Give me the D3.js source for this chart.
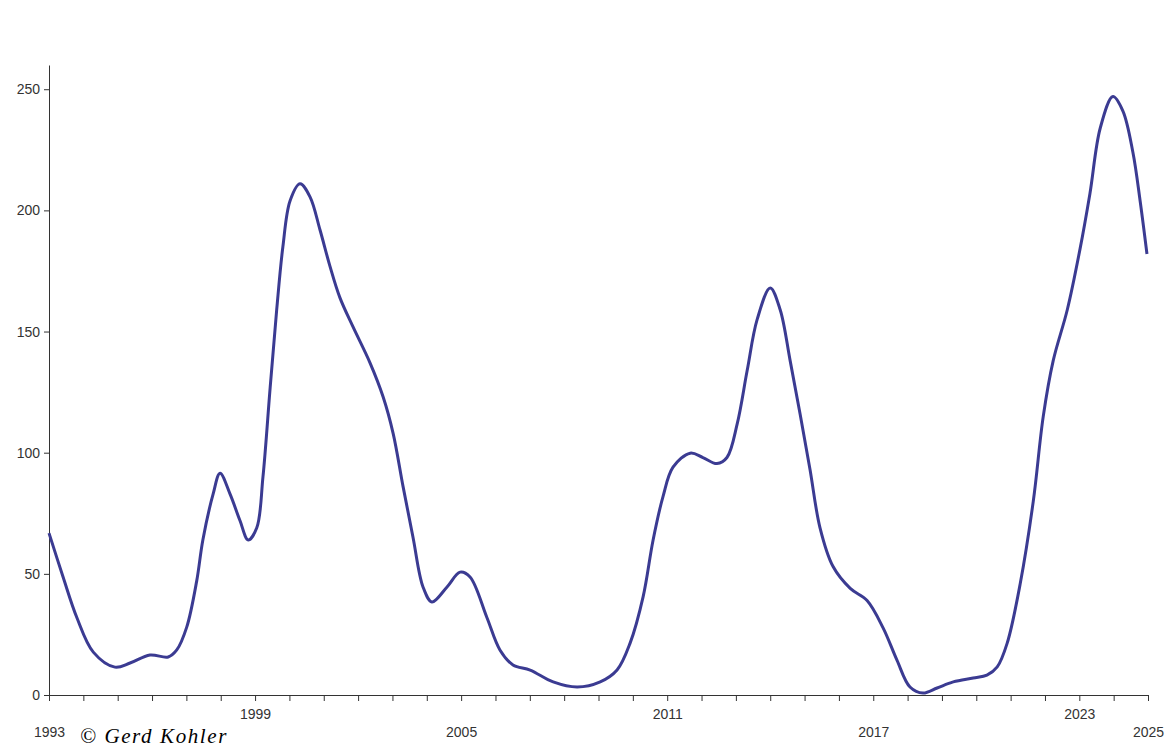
<!DOCTYPE html>
<html>
<head>
<meta charset="utf-8">
<script src="https://cdn.jsdelivr.net/npm/d3@7"></script>
<style>
  body { margin: 0; background: #fff; }
  .axis text { font-family: "Liberation Sans", Arial, sans-serif; font-size: 14px; fill: #333; }
  .axis path, .axis line { stroke: #333; }
</style>
</head>
<body>
<div id="entry"></div>
<script>
// smoothed values (decimal year, value)
var years = [1993.00, 1993.41, 1993.81, 1994.29, 1994.92, 1995.36, 1995.94, 1996.47, 1996.72, 1997.01,
  1997.30, 1997.48, 1997.78, 1997.98, 1998.27, 1998.56, 1998.80, 1999.05, 1999.23, 1999.44,
  1999.63, 1999.81, 2000.02, 2000.31, 2000.60, 2000.89, 2001.18, 2001.47, 2001.85, 2002.35,
  2002.73, 2003.02, 2003.31, 2003.60, 2003.89, 2004.15, 2004.59, 2004.97, 2005.26, 2005.75,
  2006.13, 2006.51, 2007.01, 2007.68, 2008.38, 2009.05, 2009.54, 2009.92, 2010.30, 2010.59,
  2010.88, 2011.17, 2011.67, 2012.04, 2012.45, 2012.74, 2013.04, 2013.33, 2013.62, 2014.00,
  2014.29, 2014.58, 2014.87, 2015.16, 2015.45, 2015.83, 2016.33, 2016.82, 2017.29, 2017.69,
  2018.07, 2018.45, 2018.86, 2019.33, 2019.91, 2020.31, 2020.61, 2020.90, 2021.28, 2021.66,
  2021.95, 2022.24, 2022.65, 2023.02, 2023.31, 2023.61, 2023.98, 2024.27, 2024.56, 2024.77,
  2024.97];
var values = [66.8, 48.7, 32, 17.7, 11.5, 13.2, 16.5, 15.7, 18.6, 28,
  47, 64, 83, 91.5, 83, 72, 64, 69, 90, 127,
  159, 185, 204, 211, 205.6, 192, 177, 164, 152, 137,
  123, 108, 86, 65, 44.6, 38.4, 44.6, 50.7, 48.7, 32,
  18.6, 12.4, 10.3, 5.4, 3.3, 5.4, 10.3, 21.4, 40.6, 64,
  82, 94, 99.8, 98, 95.5, 98, 112, 134, 155, 168,
  159, 138, 116, 93, 69, 53, 44, 39, 27.6, 14.4,
  3.3, 0.8, 2.9, 5.4, 7, 8.2, 11.6, 21.4, 46, 80,
  115, 138, 159, 184, 207, 234, 247, 241, 224, 204,
  182];

var yTicks = [0, 50, 100, 150, 200, 250];
var xLabels = [1993, 1999, 2005, 2011, 2017, 2023, 2025];

var width = 1170, height = 750;

var x = d3.scaleLinear().domain([1993, 2025]).range([49, 1148]);
var y = d3.scaleLinear().domain([0, 260]).range([695, 65]);

var svg = d3.select("#entry").append("svg")
  .attr("width", width)
  .attr("height", height);

var data = years.map(function(d, i) { return [d, values[i]]; });

svg.append("g")
  .attr("class", "x axis")
  .attr("transform", "translate(0,695)")
  .call(d3.axisBottom(x)
    .tickValues(d3.range(1993, 2026))
    .tickSize(6)
    .tickSizeOuter(0)
    .tickFormat(function(d) { return xLabels.indexOf(d) >= 0 ? d : ""; }));

// stagger the year labels
svg.selectAll(".x.axis .tick text")
  .attr("dy", 0)
  .attr("y", function(d) {
    var k = xLabels.indexOf(d);
    return k % 2 === 0 ? 42 : 24;
  });

svg.append("g")
  .attr("class", "y axis")
  .attr("transform", "translate(49,0)")
  .call(d3.axisLeft(y)
    .tickValues(yTicks)
    .tickSize(5)
    .tickPadding(4)
    .tickSizeOuter(0));

var line = d3.line()
  .x(function(d) { return x(d[0]); })
  .y(function(d) { return y(d[1]); })
  .curve(d3.curveCatmullRom.alpha(0.5));

svg.append("path")
  .datum(data)
  .attr("fill", "none")
  .attr("stroke", "#3b3b92")
  .attr("stroke-width", 3)
  .attr("stroke-linejoin", "round")
  .attr("d", line);

svg.append("text")
  .attr("x", 80)
  .attr("y", 743)
  .style("font-family", "'Liberation Serif', serif")
  .style("font-style", "italic")
  .style("font-size", "21px")
  .style("letter-spacing", "1.6px")
  .text("\u00a9 Gerd Kohler");
</script>
</body>
</html>
